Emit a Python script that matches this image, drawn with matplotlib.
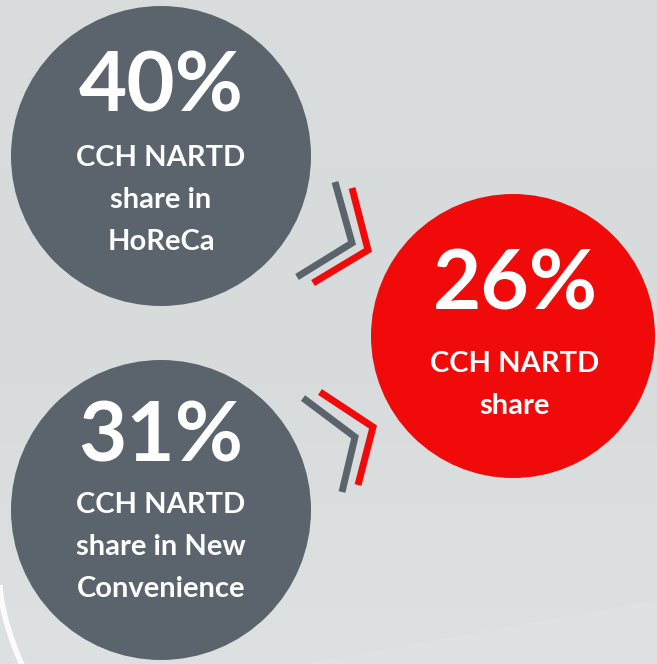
import numpy as np
import matplotlib.pyplot as plt
from matplotlib.patches import Circle, Polygon

# values shown in the three bubbles
shares = [40, 31, 26]
captions = ['CCH NARTD\nshare in\nHoReCa',
            'CCH NARTD\nshare in New\nConvenience',
            'CCH NARTD\nshare']

# bubble layout (pixel coords, y downwards)
centres = [(161, 156), (161, 510), (513, 336)]
radii = [150, 150, 142]
colours = ['#5b646c', '#5b646c', '#f00a0a']

grey = '#5b646c'
red = '#f00a0a'

fig = plt.figure(figsize=(6.57, 6.64), dpi=100)
ax = fig.add_axes([0, 0, 1, 1])
ax.set_xlim(0, 657)
ax.set_ylim(664, 0)
ax.axis('off')

# background: light grey with soft gradient
grad = np.linspace(0, 1, 256).reshape(-1, 1)
ax.imshow(grad, extent=[0, 657, 664, 0], cmap=plt.cm.colors.LinearSegmentedColormap.from_list(
    'bg', ['#dadddd', '#d8dbdb', '#dee1e1']), aspect='auto', zorder=0)
ax.add_patch(Polygon([(300, 664), (657, 600), (657, 664)], closed=True,
                     color='#dfe2e2', lw=0, zorder=1))

# white swoosh in the bottom-left corner
t = np.linspace(0, 1, 50)
ax.plot(0 + 22 * t**1.6, 585 + 80 * t, color='white', lw=4, alpha=0.9, zorder=1,
        solid_capstyle='butt')

# bubbles
for (cx, cy), r, c in zip(centres, radii, colours):
    ax.add_patch(Circle((cx, cy), r, color=c, lw=0, zorder=2))

font = 'Lato'
# top grey bubble
ax.text(161, 88, f'{shares[0]}%', ha='center', va='center', color='white',
        fontsize=60, fontweight='bold', family=font, zorder=3)
ax.text(161, 200, captions[0], ha='center', va='center', color='white',
        fontsize=21, fontweight='bold', family=font, linespacing=1.75, zorder=3)

# bottom grey bubble
ax.text(161, 438, f'{shares[1]}%', ha='center', va='center', color='white',
        fontsize=60, fontweight='bold', family=font, zorder=3)
ax.text(161, 547, captions[1], ha='center', va='center', color='white',
        fontsize=21, fontweight='bold', family=font, linespacing=1.75, zorder=3)

# red bubble
ax.text(515, 286, f'{shares[2]}%', ha='center', va='center', color='white',
        fontsize=60, fontweight='bold', family=font, zorder=3)
ax.text(515, 385, captions[2], ha='center', va='center', color='white',
        fontsize=21, fontweight='bold', family=font, linespacing=1.75, zorder=3)

# chevrons pointing to the red bubble
chevrons = [
    ([335, 352, 297], [182, 243, 277], grey),
    ([352, 368, 313], [188, 250, 283], red),
    ([303, 355, 342], [398, 437, 492], grey),
    ([320, 373, 358], [392, 427, 485], red),
]
for xs, ys, c in chevrons:
    ax.plot(xs, ys, color=c, lw=5, solid_joinstyle='miter',
            solid_capstyle='butt', zorder=2)

fig.savefig('out.png', dpi=100)
